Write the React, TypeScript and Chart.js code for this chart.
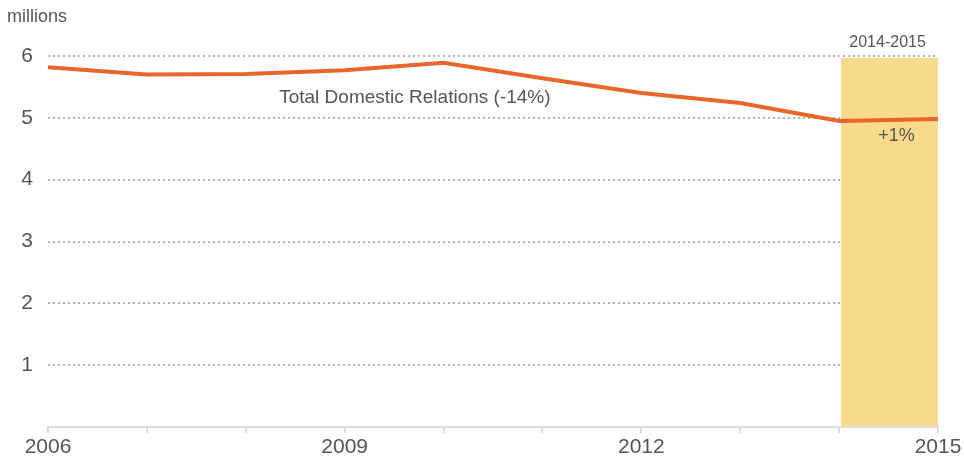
import React, { useEffect, useRef } from "react";
import { Chart, registerables } from "chart.js";

Chart.register(...registerables);

const years = [2006, 2007, 2008, 2009, 2010, 2011, 2012, 2013, 2014, 2015];
const values = [5.82, 5.70, 5.71, 5.77, 5.89, 5.64, 5.40, 5.24, 4.95, 4.98];
const yTickLabels = [1, 2, 3, 4, 5, 6];
const xLabelYears = [2006, 2009, 2012, 2015];
const highlightRange = [2014, 2015];
const seriesLabel = "Total Domestic Relations (-14%)";
const highlightLabel = "2014-2015";
const changeLabel = "+1%";
const unitLabel = "millions";

const FONT = "'Liberation Sans', Arial, sans-serif";
const TEXT = "#555555";

export default function App() {
  const ref = useRef<HTMLCanvasElement | null>(null);

  useEffect(() => {
    const canvas = ref.current;
    if (!canvas) return;

    const annotations = {
      id: "annotations",
      beforeDatasetsDraw(chart: any) {
        const { ctx, scales } = chart;
        const x = scales.x, y = scales.y;
        const x0 = x.getPixelForValue(highlightRange[0]);
        const x1 = x.getPixelForValue(highlightRange[1]);
        const yt = y.getPixelForValue(5.97);
        const yb = y.getPixelForValue(0);
        ctx.save();
        ctx.fillStyle = "#f8da8b";
        ctx.fillRect(x0 + 2, yt, x1 - x0 - 2, yb - yt - 1);
        ctx.restore();
      },
      afterDatasetsDraw(chart: any) {
        const { ctx, scales } = chart;
        const x = scales.x, y = scales.y;
        ctx.save();
        ctx.fillStyle = TEXT;
        ctx.textAlign = "center";
        ctx.textBaseline = "middle";
        ctx.font = `19px ${FONT}`;
        ctx.fillText(seriesLabel, x.getPixelForValue(2009.71), y.getPixelForValue(5.33));
        ctx.font = `18px ${FONT}`;
        ctx.fillText(changeLabel, x.getPixelForValue(2014.58), y.getPixelForValue(4.7));
        ctx.font = `16px ${FONT}`;
        ctx.fillText(highlightLabel, x.getPixelForValue(2014.49), y.getPixelForValue(6.22));
        ctx.textAlign = "left";
        ctx.font = `18px ${FONT}`;
        ctx.fillText(unitLabel, 7, 17);
        ctx.restore();
      },
    };

    const chart = new Chart(canvas, {
      type: "line",
      data: {
        datasets: [
          {
            label: seriesLabel,
            data: years.map((yr, i) => ({ x: yr, y: values[i] })),
            borderColor: "#e8662a",
            borderWidth: 4,
            pointRadius: 0,
            tension: 0,
            fill: false,
          },
        ],
      },
      options: {
        animation: false,
        responsive: false,
        maintainAspectRatio: false,
        layout: { padding: { top: 56, right: 26, left: 0, bottom: 0 } },
        plugins: { legend: { display: false }, tooltip: { enabled: false } },
        scales: {
          x: {
            type: "linear",
            min: years[0],
            max: years[years.length - 1],
            afterBuildTicks(scale: any) {
              scale.ticks = years.map((v) => ({ value: v }));
            },
            afterFit(scale: any) {
              scale.height = 33;
            },
            ticks: {
              autoSkip: false,
              maxRotation: 0,
              padding: 2,
              color: TEXT,
              font: { family: FONT, size: 21 },
              callback: (v: any) => (xLabelYears.includes(Number(v)) ? String(v) : ""),
            },
            grid: {
              drawOnChartArea: false,
              drawTicks: true,
              tickLength: 6,
              color: "#dddddd",
              lineWidth: 2,
            },
            border: { display: true, color: "#dddddd", width: 2 },
          },
          y: {
            type: "linear",
            min: 0,
            max: 6,
            afterBuildTicks(scale: any) {
              scale.ticks = [0, ...yTickLabels].map((v) => ({ value: v }));
            },
            afterFit(scale: any) {
              scale.width = 48;
            },
            ticks: {
              padding: 15,
              color: TEXT,
              font: { family: FONT, size: 21 },
              callback: (v: any) => (Number(v) === 0 ? "" : String(v)),
            },
            grid: {
              drawTicks: false,
              color: (c: any) => (c.tick && c.tick.value === 0 ? "rgba(0,0,0,0)" : "#b4b4b4"),
              lineWidth: 2,
            },
            border: { display: false, dash: [2, 3] },
          },
        },
      },
      plugins: [annotations],
    });

    return () => chart.destroy();
  }, []);

  return (
    <div style={{ position: "fixed", left: 0, top: 0, width: 964, height: 460, background: "#fff" }}>
      <canvas ref={ref} width={964} height={460} style={{ width: 964, height: 460 }} />
    </div>
  );
}
